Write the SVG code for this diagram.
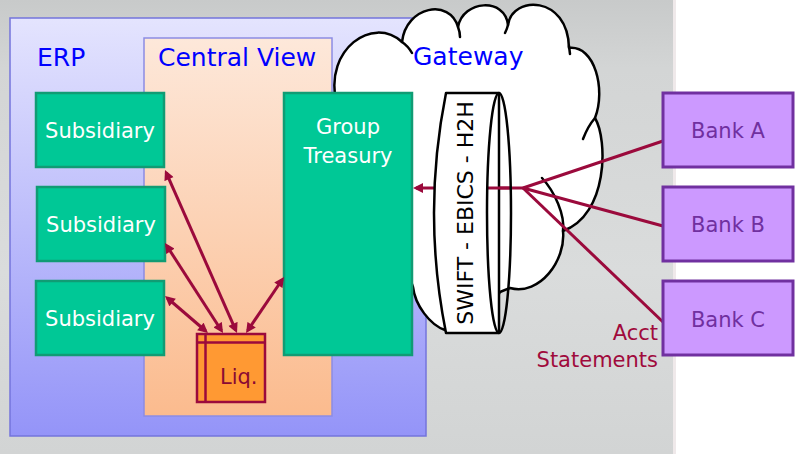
<svg xmlns="http://www.w3.org/2000/svg" width="800" height="454" viewBox="0 0 800 454">
  <defs>
    <linearGradient id="bg" x1="0" y1="0" x2="0" y2="1">
      <stop offset="0" stop-color="#c8caca"/>
      <stop offset="0.15" stop-color="#d3d5d5"/>
      <stop offset="0.6" stop-color="#dadcdc"/>
      <stop offset="1" stop-color="#d2d4d4"/>
    </linearGradient>
    <linearGradient id="erpGrad" x1="0" y1="0" x2="0" y2="1">
      <stop offset="0" stop-color="#e4e4fe"/>
      <stop offset="1" stop-color="#9494f8"/>
    </linearGradient>
    <linearGradient id="cvGrad" x1="0" y1="0" x2="0" y2="1">
      <stop offset="0" stop-color="#fde8da"/>
      <stop offset="1" stop-color="#fbbb8e"/>
    </linearGradient>
    <marker id="ah" viewBox="0 0 10 10" refX="7" refY="5" markerWidth="11" markerHeight="10" markerUnits="userSpaceOnUse" orient="auto-start-reverse">
      <path d="M0,0 L10,5 L0,10 Z" fill="#9b0a3c"/>
    </marker>
    <style>
      .lbl { font-family: "DejaVu Sans", Verdana, sans-serif; }
      .title { font-size: 25px; fill: #0000ff; }
      .green rect { fill: #00c896; stroke: #109c74; stroke-width: 2.5; }
      .green text { font-size: 21px; fill: #ffffff; text-anchor: middle; }
      .bank rect { fill: #cc99ff; stroke: #7030a0; stroke-width: 3; }
      .bank text { font-size: 21px; fill: #7030a0; text-anchor: middle; }
      .conn { stroke: #9b0a3c; stroke-width: 3; fill: none; }
      .cloud { fill: #ffffff; stroke: #000000; stroke-width: 2.5; stroke-linejoin: round; }
      .hook { fill: none; stroke: #000000; stroke-width: 2.5; stroke-linecap: round; }
    </style>
  </defs>

  <!-- background -->
  <rect x="0" y="0" width="800" height="454" fill="#ffffff"/>
  <rect x="0" y="0" width="673" height="454" fill="url(#bg)"/>
  <rect x="673" y="0" width="3" height="454" fill="#efe9ea"/>

  <!-- ERP container -->
  <g id="erp">
    <rect x="10" y="18" width="416" height="418" fill="url(#erpGrad)" stroke="#7474dc" stroke-width="1.5"/>
    <text class="lbl title" x="37" y="66">ERP</text>
  </g>

  <!-- Central View container -->
  <g id="central-view">
    <rect x="144" y="38" width="188" height="378" fill="url(#cvGrad)" stroke="#8c8ce4" stroke-width="1.5"/>
    <text class="lbl title" x="158" y="66">Central View</text>
  </g>

  <!-- Gateway cloud -->
  <g id="gateway">
    <path class="cloud" d="M336,100 C325,50 372,15 402,42 C406,6 450,-2 458,27 C463,0 505,-3 508,25 C512,-5 568,-5 569,48 C595,45 606,90 595,118 C608,140 608,215 563,231 C566,260 540,296 510,288 L500,292 C480,332 455,334 445,330 C430,325 415,305 413,287 L400,250 L336,200 Z"/>
    <path class="hook" d="M402,42 Q408,46 412,53"/>
    <path class="hook" d="M458,27 Q460,32 460,37"/>
    <path class="hook" d="M508,25 Q507,29 505,33"/>
    <path class="hook" d="M569,46 L570,54"/>
    <path class="hook" d="M595,118 Q588,126 583,139"/>
    <path class="hook" d="M542,178 C555,192 565,215 563,231"/>
    <text class="lbl title" x="413" y="65">Gateway</text>
  </g>

  <!-- Subsidiaries -->
  <g id="subsidiary-1" class="green">
    <rect x="36" y="93" width="128" height="74"/>
    <text class="lbl" x="100" y="138">Subsidiary</text>
  </g>
  <g id="subsidiary-2" class="green">
    <rect x="37" y="187" width="128" height="74"/>
    <text class="lbl" x="101" y="232">Subsidiary</text>
  </g>
  <g id="subsidiary-3" class="green">
    <rect x="36" y="281" width="128" height="74"/>
    <text class="lbl" x="100" y="326">Subsidiary</text>
  </g>

  <!-- Group Treasury -->
  <g id="group-treasury" class="green">
    <rect x="284" y="93" width="128" height="262"/>
    <text class="lbl" x="348" y="134">Group</text>
    <text class="lbl" x="348" y="163">Treasury</text>
  </g>

  <!-- Connectors -->
  <g id="connectors">
    <line class="conn" x1="166.2" y1="172.7" x2="235.8" y2="330.3" marker-start="url(#ah)" marker-end="url(#ah)"/>
    <line class="conn" x1="166.6" y1="245.5" x2="221.4" y2="330.5" marker-start="url(#ah)" marker-end="url(#ah)"/>
    <line class="conn" x1="167.3" y1="298" x2="205.7" y2="331" marker-start="url(#ah)" marker-end="url(#ah)"/>
    <line class="conn" x1="282.3" y1="279.5" x2="247.7" y2="330.5" marker-start="url(#ah)" marker-end="url(#ah)"/>
    <line class="conn" x1="440" y1="188" x2="416" y2="188" marker-end="url(#ah)"/>
    <line class="conn" x1="485" y1="188" x2="523" y2="188"/>
    <line class="conn" x1="523" y1="188" x2="663" y2="141"/>
    <line class="conn" x1="523" y1="188" x2="663" y2="226"/>
    <line class="conn" x1="523" y1="188" x2="663" y2="322"/>
  </g>

  <!-- SWIFT cylinder -->
  <g id="channel">
    <path d="M499,93 L446,93 Q422,213 446,333 L499,333 Z" fill="#ffffff" stroke="#000000" stroke-width="2.5" stroke-linejoin="round"/>
    <line class="conn" x1="487" y1="188" x2="512" y2="188"/>
    <ellipse cx="499" cy="213" rx="12" ry="120" fill="none" stroke="#000000" stroke-width="2.5"/>
    <text class="lbl" transform="translate(473,213) rotate(-90)" x="0" y="0" font-size="22" fill="#000000" text-anchor="middle">SWIFT - EBICS - H2H</text>
  </g>

  <!-- Liquidity -->
  <g id="liq">
    <rect x="197" y="334" width="68" height="68" fill="#ff9933" stroke="#9b0a3c" stroke-width="2.5"/>
    <line x1="197" y1="342.5" x2="265" y2="342.5" stroke="#9b0a3c" stroke-width="2.5"/>
    <line x1="205.5" y1="334" x2="205.5" y2="402" stroke="#9b0a3c" stroke-width="2.5"/>
    <text class="lbl" x="220" y="384" font-size="21" fill="#8a0a34">Liq.</text>
  </g>

  <!-- Banks -->
  <g id="bank-a" class="bank">
    <rect x="663" y="93" width="130" height="74"/>
    <text class="lbl" x="728" y="138">Bank A</text>
  </g>
  <g id="bank-b" class="bank">
    <rect x="663" y="187" width="130" height="74"/>
    <text class="lbl" x="728" y="232">Bank B</text>
  </g>
  <g id="bank-c" class="bank">
    <rect x="663" y="281" width="130" height="74"/>
    <text class="lbl" x="728" y="327">Bank C</text>
  </g>

  <!-- Acct Statements label -->
  <g id="acct-label">
    <text class="lbl" x="658" y="340" font-size="21" fill="#a00a3c" text-anchor="end">Acct</text>
    <text class="lbl" x="658" y="367" font-size="21" fill="#a00a3c" text-anchor="end">Statements</text>
  </g>
</svg>
